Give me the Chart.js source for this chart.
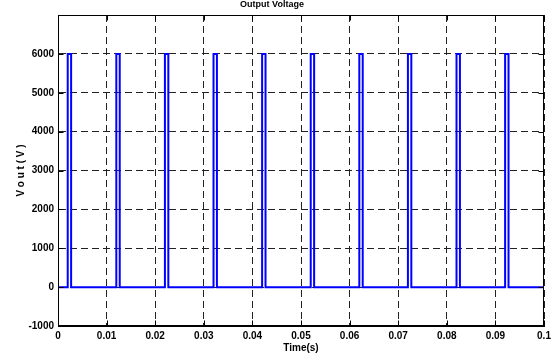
<!DOCTYPE html>
<html>
<head>
<meta charset="utf-8">
<script src="https://cdn.jsdelivr.net/npm/chart.js@4"></script>
<style>
html,body{margin:0;padding:0;background:#fff;}
#wrap{width:551px;height:358px;position:relative;}
</style>
</head>
<body>
<div id="wrap"><canvas id="c" width="551" height="358"></canvas></div>
<script>
// ---- data ----
const pulseStart = [0.0020, 0.0120, 0.0220, 0.0320, 0.0420, 0.0520, 0.0620, 0.0720, 0.0820, 0.0920];
const pulseEnd   = [0.0027, 0.0127, 0.0227, 0.0327, 0.0427, 0.0527, 0.0627, 0.0727, 0.0827, 0.0927];
const pulseHigh  = [6000, 6000, 6000, 6000, 6000, 6000, 6000, 6000, 6000, 6000];
const lowLevel = 0;
const timeStart = 0;
const timeEnd = 0.1;

const xTickValues = [0, 0.01, 0.02, 0.03, 0.04, 0.05, 0.06, 0.07, 0.08, 0.09, 0.1];
const xTickLabels = ['0', '0.01', '0.02', '0.03', '0.04', '0.05', '0.06', '0.07', '0.08', '0.09', '0.1'];
const yTickValues = [-1000, 0, 1000, 2000, 3000, 4000, 5000, 6000, 7000];
const yTickLabels = ['-1000', '0', '1000', '2000', '3000', '4000', '5000', '6000', ''];

const titleText = 'Output Voltage';
const xTitle = 'Time(s)';
const yTitle = 'V o u t ( V )';

// build step waveform from the arrays
const points = [{x: timeStart, y: lowLevel}];
for (let i = 0; i < pulseStart.length; i++) {
  points.push({x: pulseStart[i], y: lowLevel});
  points.push({x: pulseStart[i], y: pulseHigh[i]});
  points.push({x: pulseEnd[i], y: pulseHigh[i]});
  points.push({x: pulseEnd[i], y: lowLevel});
}
points.push({x: timeEnd, y: lowLevel});

const FONT = "'Liberation Sans', Arial, Helvetica, sans-serif";

const framePlugin = {
  id: 'frame',
  afterDraw(chart) {
    const {ctx, chartArea: a, scales} = chart;
    ctx.save();
    ctx.strokeStyle = '#000';
    ctx.lineWidth = 1;
    ctx.setLineDash([]);
    const L = Math.round(a.left) + 0.5, R = Math.round(a.right) - 0.5;
    const T = Math.round(a.top) + 0.5, B = Math.round(a.bottom) - 0.5;
    ctx.strokeRect(L, T, R - L, B - T);
    const tl = 5;
    ctx.beginPath();
    scales.x.ticks.forEach(t => {
      const px = Math.round(scales.x.getPixelForValue(t.value)) + 0.5;
      ctx.moveTo(px, B); ctx.lineTo(px, B - tl);
      ctx.moveTo(px, T); ctx.lineTo(px, T + tl);
    });
    scales.y.ticks.forEach(t => {
      const py = Math.round(scales.y.getPixelForValue(t.value)) + 0.5;
      ctx.moveTo(L, py); ctx.lineTo(L + tl, py);
      ctx.moveTo(R, py); ctx.lineTo(R - tl, py);
    });
    ctx.stroke();
    ctx.restore();
  }
};

new Chart(document.getElementById('c'), {
  type: 'line',
  data: {
    datasets: [{
      data: points,
      borderColor: '#0000ff',
      borderWidth: 2,
      pointRadius: 0,
      tension: 0,
      fill: false
    }]
  },
  options: {
    responsive: false,
    animation: false,
    devicePixelRatio: 1,
    layout: {padding: {left: 0, right: 7, top: 0, bottom: 0}},
    plugins: {
      legend: {display: false},
      tooltip: {enabled: false},
      title: {
        display: true,
        text: titleText,
        color: '#000',
        font: {family: FONT, size: 9, weight: 'bold', lineHeight: 1},
        padding: {top: 0, bottom: 6}
      }
    },
    scales: {
      x: {
        type: 'linear',
        min: timeStart,
        max: timeEnd,
        afterBuildTicks: s => { s.ticks = xTickValues.map(v => ({value: v})); },
        afterFit: s => { s.height = 32; s.paddingRight = 0; s.paddingLeft = 0; },
        ticks: {
          autoSkip: false,
          maxRotation: 0,
          padding: 4,
          color: '#000',
          font: {family: FONT, size: 10, weight: 'bold'},
          callback: (v, i) => xTickLabels[i]
        },
        grid: {color: '#222', lineWidth: 1, drawTicks: false},
        border: {display: true, color: '#000', width: 1, dash: [7, 4]},
        title: {
          display: true,
          text: xTitle,
          color: '#000',
          font: {family: FONT, size: 10, weight: 'bold'},
          padding: {top: 0, bottom: 4}
        }
      },
      y: {
        type: 'linear',
        min: -1000,
        max: 7000,
        afterBuildTicks: s => { s.ticks = yTickValues.map(v => ({value: v})); },
        afterFit: s => { s.width = 58; },
        ticks: {
          autoSkip: false,
          padding: 4,
          color: '#000',
          font: {family: FONT, size: 10, weight: 'bold'},
          callback: (v, i) => yTickLabels[i]
        },
        grid: {color: '#222', lineWidth: 1, drawTicks: false},
        border: {display: true, color: '#000', width: 1, dash: [7, 4]},
        title: {
          display: true,
          text: yTitle,
          color: '#000',
          font: {family: FONT, size: 10, weight: 'bold'},
          padding: {top: 15, bottom: 0}
        }
      }
    }
  },
  plugins: [framePlugin]
});
</script>
</body>
</html>
